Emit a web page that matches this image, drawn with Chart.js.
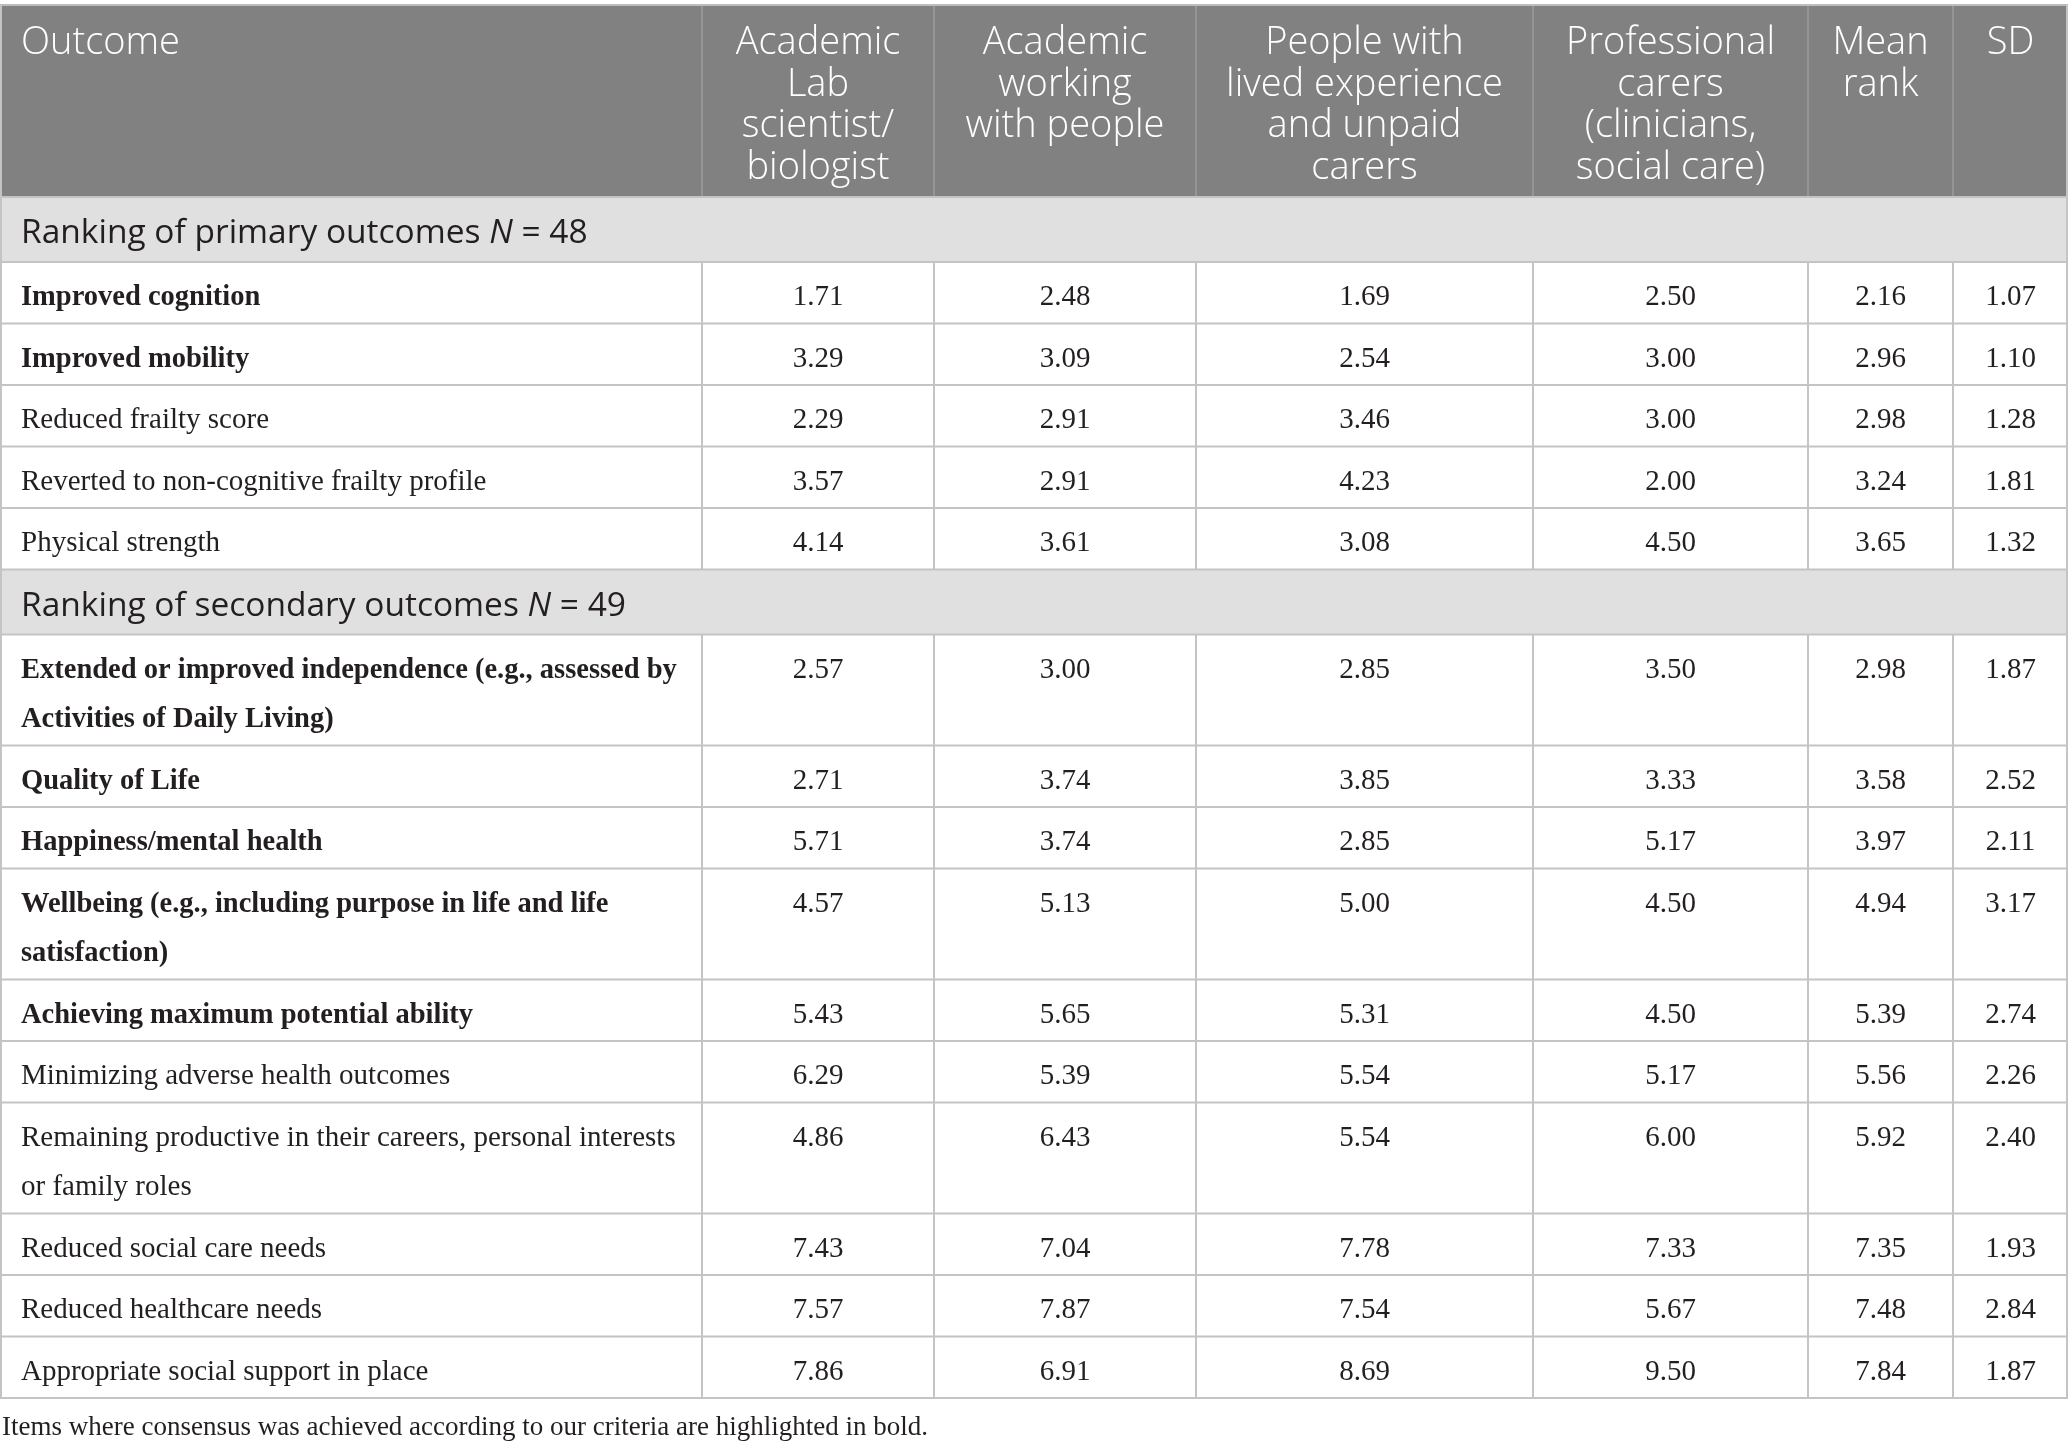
<!DOCTYPE html>
<html>
<head>
<meta charset="utf-8">
<script src="https://cdn.jsdelivr.net/npm/chart.js@4.4.1/dist/chart.umd.min.js"></script>
<style>
  html, body { margin: 0; padding: 0; background: #fff; }
  canvas { display: block; }
</style>
</head>
<body>
<canvas id="rankTable" width="2068" height="1451"></canvas>
<script>
// ********************* data ***********************
const headers = [
    ['Outcome'],
    ['Academic', 'Lab', 'scientist/', 'biologist'],
    ['Academic', 'working', 'with people'],
    ['People with', 'lived experience', 'and unpaid', 'carers'],
    ['Professional', 'carers', '(clinicians,', 'social care)'],
    ['Mean', 'rank'],
    ['SD'],
];

const sectionTitles = ['Ranking of primary outcomes', 'Ranking of secondary outcomes'];
const sectionN = [48, 49];
const sectionSizes = [5, 10];

const outcomes = [
    'Improved cognition',
    'Improved mobility',
    'Reduced frailty score',
    'Reverted to non-cognitive frailty profile',
    'Physical strength',
    'Extended or improved independence (e.g., assessed by Activities of Daily Living)',
    'Quality of Life',
    'Happiness/mental health',
    'Wellbeing (e.g., including purpose in life and life satisfaction)',
    'Achieving maximum potential ability',
    'Minimizing adverse health outcomes',
    'Remaining productive in their careers, personal interests or family roles',
    'Reduced social care needs',
    'Reduced healthcare needs',
    'Appropriate social support in place',
];

// consensus reached -> shown in bold
const consensus = [true, true, false, false, false, true, true, true, true, true, false, false, false, false, false];

const labScientist = [1.71, 3.29, 2.29, 3.57, 4.14, 2.57, 2.71, 5.71, 4.57, 5.43, 6.29, 4.86, 7.43, 7.57, 7.86];
const academicPeople = [2.48, 3.09, 2.91, 2.91, 3.61, 3.00, 3.74, 3.74, 5.13, 5.65, 5.39, 6.43, 7.04, 7.87, 6.91];
const livedExperience = [1.69, 2.54, 3.46, 4.23, 3.08, 2.85, 3.85, 2.85, 5.00, 5.31, 5.54, 5.54, 7.78, 7.54, 8.69];
const professionalCarers = [2.50, 3.00, 3.00, 2.00, 4.50, 3.50, 3.33, 5.17, 4.50, 4.50, 5.17, 6.00, 7.33, 5.67, 9.50];
const meanRank = [2.16, 2.96, 2.98, 3.24, 3.65, 2.98, 3.58, 3.97, 4.94, 5.39, 5.56, 5.92, 7.35, 7.48, 7.84];
const sd = [1.07, 1.10, 1.28, 1.81, 1.32, 1.87, 2.52, 2.11, 3.17, 2.74, 2.26, 2.40, 1.93, 2.84, 1.87];

const footnote = 'Items where consensus was achieved according to our criteria are highlighted in bold.';

const valueColumns = [labScientist, academicPeople, livedExperience, professionalCarers, meanRank, sd];

// ********************* layout ***********************
const W = 2068, H = 1451;
const colWidths = [702, 232, 262, 337, 275, 145, 115];
const tableTop = 5;
const headerH = 192;
const headerLineStep = 41.5;
const sectionH = 65;
const rowH = 61.5;
const extraLineH = 49.5;
const padX = 21;
const textNudge = 5;

const serif = '"Liberation Serif", "DejaVu Serif", serif';
const sans = '"Open Sans", "Noto Sans", sans-serif';
const bodyFont = (bold) => (bold ? 'bold 28.5px ' : '29px ') + serif;

const colEdges = [0];
colWidths.forEach(w => colEdges.push(colEdges[colEdges.length - 1] + w));
const colCenters = colWidths.map((w, i) => colEdges[i] + w / 2);

// wrap the outcome labels to the first column
const measureCtx = document.createElement('canvas').getContext('2d');
function wrap(text, font, maxW) {
    measureCtx.font = font;
    const words = text.split(' ');
    const lines = [];
    let line = '';
    words.forEach(w => {
        const test = line ? line + ' ' + w : w;
        if (line && measureCtx.measureText(test).width > maxW) {
            lines.push(line);
            line = w;
        } else {
            line = test;
        }
    });
    lines.push(line);
    return lines;
}
const outcomeLines = outcomes.map((t, i) => wrap(t, bodyFont(consensus[i]), colWidths[0] - padX - 16));

// row tops
const sectionTops = [];
const rowTops = [];
const rowBottoms = [];
let yCursor = tableTop + headerH;
let k = 0;
sectionSizes.forEach((n, s) => {
    sectionTops.push(yCursor);
    yCursor += sectionH;
    for (let j = 0; j < n; j++, k++) {
        rowTops.push(yCursor);
        yCursor += rowH + (outcomeLines[k].length - 1) * extraLineH;
        rowBottoms.push(yCursor);
    }
});
const tableBottom = yCursor;

// ********************* drawing plugin ***********************
const tablePlugin = {
    id: 'tableCells',
    beforeDatasetsDraw(chart) {
        const ctx = chart.ctx;
        const sx = chart.scales.x, sy = chart.scales.y;
        const px = v => sx.getPixelForValue(v);
        const py = v => sy.getPixelForValue(v);
        ctx.save();

        // header background
        ctx.fillStyle = '#808180';
        ctx.fillRect(px(0), py(tableTop), px(W) - px(0), py(tableTop + headerH) - py(tableTop));

        // section backgrounds
        ctx.fillStyle = '#e1e0e1';
        sectionTops.forEach(t => ctx.fillRect(px(0), py(t), px(W) - px(0), py(t + sectionH) - py(t)));

        // header column separators
        ctx.strokeStyle = '#9c9c9c';
        ctx.lineWidth = 1.5;
        for (let c = 1; c < colEdges.length - 1; c++) {
            ctx.beginPath();
            ctx.moveTo(px(colEdges[c]), py(tableTop));
            ctx.lineTo(px(colEdges[c]), py(tableTop + headerH));
            ctx.stroke();
        }

        // body column separators
        ctx.strokeStyle = '#c4c4c4';
        ctx.lineWidth = 2;
        rowTops.forEach((t, i) => {
            for (let c = 1; c < colEdges.length - 1; c++) {
                ctx.beginPath();
                ctx.moveTo(px(colEdges[c]), py(t));
                ctx.lineTo(px(colEdges[c]), py(rowBottoms[i]));
                ctx.stroke();
            }
        });

        // horizontal rules
        const hLines = [tableTop, tableTop + headerH];
        sectionTops.forEach(t => hLines.push(t + sectionH));
        rowBottoms.forEach(b => hLines.push(b));
        hLines.forEach((y, i) => {
            ctx.strokeStyle = i === 0 ? '#bdbdbd' : '#c4c4c4';
            ctx.beginPath();
            ctx.moveTo(px(0), py(y));
            ctx.lineTo(px(W), py(y));
            ctx.stroke();
        });

        // outer sides
        ctx.beginPath();
        ctx.moveTo(px(0) + 1, py(tableTop));
        ctx.lineTo(px(0) + 1, py(tableBottom));
        ctx.moveTo(px(W) - 1, py(tableTop));
        ctx.lineTo(px(W) - 1, py(tableBottom));
        ctx.stroke();

        // header text
        ctx.fillStyle = '#ffffff';
        ctx.font = '300 38px ' + sans;
        ctx.textBaseline = 'middle';
        headers.forEach((lines, c) => {
            lines.forEach((line, l) => {
                const y = py(tableTop + 38.5 + l * headerLineStep);
                if (c === 0) {
                    ctx.textAlign = 'left';
                    ctx.fillText(line, px(colEdges[0] + padX), y);
                } else {
                    ctx.textAlign = 'center';
                    ctx.fillText(line, px(colCenters[c]), y);
                }
            });
        });

        // section titles
        ctx.fillStyle = '#231f20';
        ctx.textAlign = 'left';
        const secSize = '33.5px ';
        sectionTops.forEach((t, s) => {
            const y = py(t + sectionH / 2 + 4);
            let x = px(padX);
            ctx.font = secSize + sans;
            const a = sectionTitles[s] + ' ';
            ctx.fillText(a, x, y);
            x += ctx.measureText(a).width;
            ctx.font = 'italic ' + secSize + sans;
            ctx.fillText('N', x, y);
            x += ctx.measureText('N').width;
            ctx.font = secSize + sans;
            ctx.fillText(' = ' + sectionN[s], x, y);
        });

        // outcome labels
        ctx.fillStyle = '#231f20';
        outcomeLines.forEach((lines, i) => {
            ctx.font = bodyFont(consensus[i]);
            lines.forEach((line, l) => {
                ctx.fillText(line, px(padX), py(rowTops[i] + rowH / 2 + textNudge + l * extraLineH));
            });
        });

        // footnote
        ctx.font = '27px ' + serif;
        ctx.fillText(footnote, px(2), py(tableBottom + 30));

        ctx.restore();
    },
    afterDatasetsDraw(chart) {
        const ctx = chart.ctx;
        ctx.save();
        ctx.fillStyle = '#231f20';
        ctx.font = bodyFont(false);
        ctx.textAlign = 'center';
        ctx.textBaseline = 'middle';
        chart.data.datasets.forEach((ds, d) => {
            chart.getDatasetMeta(d).data.forEach((pt, i) => {
                ctx.fillText(valueColumns[d][i].toFixed(2), pt.x, pt.y);
            });
        });
        ctx.restore();
    }
};

// one invisible point per cell, placed through the scales
const datasets = valueColumns.map((col, c) => ({
    label: headers[c + 1].join(' '),
    data: col.map((v, i) => ({ x: colCenters[c + 1], y: rowTops[i] + rowH / 2 + textNudge })),
    pointRadius: 0,
    showLine: false,
}));

const tableChart = new Chart(
    document.getElementById('rankTable'),
    {
        type: 'scatter',
        data: { datasets: datasets },
        options: {
            responsive: false,
            animation: false,
            devicePixelRatio: 1,
            layout: { padding: 0 },
            plugins: { legend: { display: false }, tooltip: { enabled: false } },
            scales: {
                x: { type: 'linear', min: 0, max: W, display: false },
                y: { type: 'linear', min: 0, max: H, reverse: true, display: false },
            },
        },
        plugins: [tablePlugin],
    }
);
</script>
</body>
</html>
